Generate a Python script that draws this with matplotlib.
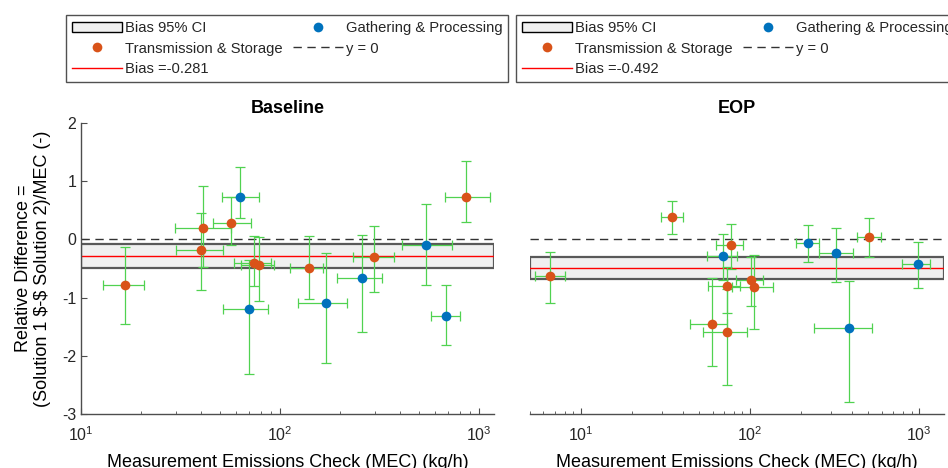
import numpy as np
import matplotlib
matplotlib.use("Agg")
import matplotlib.pyplot as plt
from matplotlib.patches import Patch
from matplotlib.lines import Line2D

plt.rcParams['font.family'] = ['Liberation Sans', 'DejaVu Sans']
plt.rcParams['axes.unicode_minus'] = False
plt.rcParams['mathtext.default'] = 'regular'
plt.rcParams['text.color'] = '0.15'

# --- data: Baseline ---
base_x    = [16.6, 41.0, 40.0, 56.7, 62.9, 73.9, 78.0, 69.8, 139.5, 170.4, 259, 297.7, 540, 857, 686]
base_y    = [-0.78, 0.19, -0.18, 0.29, 0.73, -0.40, -0.44, -1.20, -0.49, -1.09, -0.66, -0.31, -0.09, 0.73, -1.315]
base_ylo  = [-1.46, -0.47, -0.87, -0.10, 0.37, -0.80, -1.06, -2.32, -1.02, -2.13, -1.59, -0.90, -0.78, 0.30, -1.81]
base_yhi  = [-0.125, 0.91, 0.45, 0.73, 1.25, 0.06, 0.04, -0.35, 0.06, -0.24, 0.08, 0.23, 0.61, 1.355, -0.79]
base_xlo  = [12.9, 29.6, 29.9, 46.0, 51.3, 58.6, 63.8, 51.7, 112.9, 123, 193, 233, 409, 675, 573]
base_xhi  = [20.7, 56.9, 51.6, 71.8, 78.0, 90.3, 93.7, 87.5, 163.9, 216, 327, 375, 734, 1131, 800]
base_cat  = ['T', 'T', 'T', 'T', 'G', 'T', 'T', 'G', 'T', 'G', 'G', 'T', 'G', 'T', 'G']
base_bias = -0.281
base_ci   = (-0.49, -0.08)

# --- data: EOP ---
eop_x    = [6.56, 34.4, 69.5, 76.9, 72.8, 100.9, 106, 219, 323, 506, 982, 384, 59.8, 73.4]
eop_y    = [-0.63, 0.38, -0.29, -0.09, -0.80, -0.70, -0.82, -0.07, -0.23, 0.04, -0.43, -1.53, -1.45, -1.59]
eop_ylo  = [-1.10, 0.09, -0.69, -0.51, -1.27, -1.14, -1.54, -0.38, -0.74, -0.30, -0.83, -2.80, -2.18, -2.50]
eop_yhi  = [-0.22, 0.66, 0.09, 0.27, -0.48, -0.31, -0.26, 0.245, 0.19, 0.36, -0.05, -0.71, -0.67, -0.85]
eop_xlo  = [5.35, 29.6, 55.8, 63.0, 56.4, 82.2, 78, 186, 257, 431, 787, 239, 44.2, 52.5]
eop_xhi  = [8.04, 40.0, 83.4, 91.2, 87.3, 120, 137, 256, 406, 593, 1161, 525, 73.4, 96.3]
eop_cat  = ['T', 'T', 'G', 'T', 'T', 'T', 'T', 'G', 'G', 'T', 'G', 'G', 'T', 'T']
eop_bias = -0.492
eop_ci   = (-0.68, -0.30)

orange = '#D95319'
blue = '#0072BD'
green = '#50d250'
W, H = 948, 468

fig = plt.figure(figsize=(W / 100, H / 100), dpi=100)
ax1 = fig.add_axes([81 / W, 1 - 414 / H, (494 - 81) / W, (414 - 123) / H])
ax2 = fig.add_axes([530 / W, 1 - 414 / H, (944 - 530) / W, (414 - 123) / H])


def draw_panel(ax, x, y, ylo, yhi, xlo, xhi, cat, bias, ci, xlim, title):
    x = np.array(x); y = np.array(y)
    yerr = [y - np.array(ylo), np.array(yhi) - y]
    xerr = [x - np.array(xlo), np.array(xhi) - x]
    ax.axhspan(ci[0], ci[1], facecolor='0.94', edgecolor='0.35', lw=1.6, zorder=1)
    ax.axhline(0, color='0.2', ls=(0, (6, 4)), lw=1.0, zorder=2)
    ax.axhline(bias, color='red', lw=1.0, zorder=2)
    ax.errorbar(x, y, yerr=yerr, xerr=xerr, fmt='none', ecolor=green,
                elinewidth=0.9, capsize=3.6, capthick=0.9, zorder=3)
    cat = np.array(cat)
    for c, col in (('T', orange), ('G', blue)):
        m = cat == c
        ax.plot(x[m], y[m], 'o', color=col, ms=7, mec='none', zorder=4)
    ax.set_xscale('log')
    ax.set_xlim(*xlim)
    ax.set_ylim(-3, 2)
    ax.set_title(title, fontsize=13, fontweight='bold', pad=7, color='black')
    ax.set_xlabel('Measurement Emissions Check (MEC) (kg/h)', fontsize=13, labelpad=7)
    ax.tick_params(direction='in', which='major', length=4, width=0.8, colors='0.3',
                   labelcolor='0.15', labelsize=11.5)
    ax.tick_params(axis='x', which='major', pad=8)
    ax.tick_params(direction='in', which='minor', length=2, width=0.6, colors='0.3')
    for s in ('top', 'right'):
        ax.spines[s].set_visible(False)
    for s in ('left', 'bottom'):
        ax.spines[s].set_color('0.3')
        ax.spines[s].set_linewidth(1.0)

    handles = [Patch(facecolor='0.94', edgecolor='black', lw=1.0),
               Line2D([], [], ls='none', marker='o', color=orange, ms=7, mec='none'),
               Line2D([], [], color='red', lw=1.0),
               Line2D([], [], ls='none', marker='o', color=blue, ms=7, mec='none'),
               Line2D([], [], color='0.2', ls=(0, (6, 4)), lw=1.0)]
    labels = ['Bias 95% CI', 'Transmission & Storage', 'Bias =%.3f' % bias,
              'Gathering & Processing', 'y = 0']
    return handles, labels


h1, l1 = draw_panel(ax1, base_x, base_y, base_ylo, base_yhi, base_xlo, base_xhi, base_cat,
                    base_bias, base_ci, (10, 1190), 'Baseline')
h2, l2 = draw_panel(ax2, eop_x, eop_y, eop_ylo, eop_yhi, eop_xlo, eop_xhi, eop_cat,
                    eop_bias, eop_ci, (5, 1400), 'EOP')

ax1.set_yticks([-3, -2, -1, 0, 1, 2])
ax1.set_ylabel('Relative Difference =\n(Solution 1 \\$-\\$ Solution 2)/MEC (-)',
               fontsize=13, labelpad=8, linespacing=1.1)
ax2.spines['left'].set_visible(False)
ax2.tick_params(axis='y', left=False, labelleft=False)

for h, l, x0 in ((h1, l1, 66), (h2, l2, 516)):
    leg = fig.legend(h, l, ncol=2, loc='upper left', bbox_to_anchor=(x0 / W, 1 - 15 / H),
                     fontsize=10.6, frameon=True, fancybox=False, handlelength=3.4,
                     handletextpad=0.2, columnspacing=0.7, labelspacing=0.45,
                     borderpad=0.4, borderaxespad=0)
    leg.get_frame().set_edgecolor('0.15')
    leg.get_frame().set_linewidth(1.0)

fig.savefig('out.png', dpi=100)
